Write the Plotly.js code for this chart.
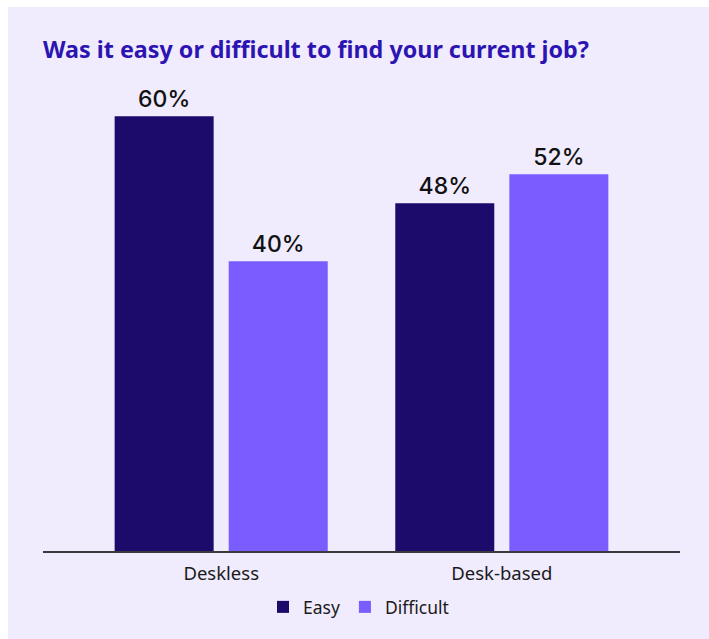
<!DOCTYPE html>
<html>
<head>
<meta charset="utf-8">
<script src="https://cdn.plot.ly/plotly-3.0.1.min.js"></script>
<style>
html,body{margin:0;padding:0;background:#ffffff;}
#chart{position:absolute;left:8px;top:7px;width:701px;height:632px;}
</style>
</head>
<body>
<div id="chart"></div>
<script>
const categories = ["Deskless", "Desk-based"];
const seriesNames = ["Easy", "Difficult"];
const easyValues = [60, 48];
const difficultValues = [40, 52];
const titleText = "Was it easy or difficult to find your current job?";

const colors = {Easy: "#1c0b6b", Difficult: "#7b5cff"};

function makeTrace(name, values) {
  return {
    type: "bar",
    name: name,
    x: categories,
    y: values,
    text: values.map(v => v + "%"),
    textposition: "outside",
    cliponaxis: false,
    textfont: {family: "Inter, 'Noto Sans', sans-serif", size: 23, color: "#111111", weight: 500},
    marker: {color: colors[name]},
    hoverinfo: "skip"
  };
}

const data = [makeTrace(seriesNames[0], easyValues), makeTrace(seriesNames[1], difficultValues)];

const layout = {
  width: 701,
  height: 632,
  paper_bgcolor: "#f0ebfd",
  plot_bgcolor: "#f0ebfd",
  margin: {l: 35, r: 29, t: 73, b: 88},
  barmode: "group",
  bargap: 0.187,
  bargroupgap: 0.132,
  title: {
    text: "<b>" + titleText + "</b>",
    font: {family: "'Noto Sans', sans-serif", size: 23.3, color: "#2c14b3"},
    x: 0, xref: "container", xanchor: "left",
    y: 0.932, yref: "container", yanchor: "middle",
    pad: {l: 35}
  },
  xaxis: {
    type: "category",
    range: [-0.635, 1.635],
    showline: true,
    linecolor: "#3a3a3a",
    linewidth: 1.5,
    ticks: "",
    ticklabelstandoff: 5,
    showgrid: false,
    zeroline: false,
    tickfont: {family: "'Noto Sans', sans-serif", size: 18.5, color: "#1a1a1a"},
    fixedrange: true
  },
  yaxis: {
    range: [0, 65],
    visible: false,
    showgrid: false,
    zeroline: false,
    fixedrange: true
  },
  showlegend: true,
  legend: {
    orientation: "h",
    x: 0.5, xanchor: "center", xref: "container",
    y: 1 - 600/632, yanchor: "middle", yref: "container",
    font: {family: "'Noto Sans', sans-serif", size: 17.5, color: "#1a1a1a"},
    bgcolor: "rgba(0,0,0,0)",
    itemwidth: 30,
    traceorder: "normal"
  }
};

Plotly.newPlot("chart", data, layout, {displayModeBar: false, staticPlot: true});
</script>
</body>
</html>
